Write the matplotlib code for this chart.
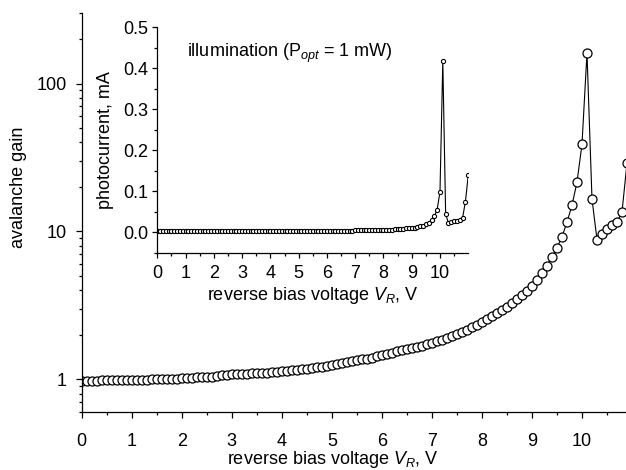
import numpy as np
import matplotlib
matplotlib.use("Agg")
import matplotlib.pyplot as plt
from matplotlib.ticker import LogLocator, MultipleLocator, NullFormatter, FixedLocator

plt.rcParams['font.family'] = ['Liberation Sans', 'DejaVu Sans']
plt.rcParams['mathtext.fontset'] = 'custom'
plt.rcParams['mathtext.rm'] = 'Liberation Sans'
plt.rcParams['mathtext.it'] = 'Liberation Sans:italic'

# reverse bias voltage, V (0.1 V steps)
voltage = [round(0.1 * i, 1) for i in range(111)]

# avalanche gain
gain = [0.97, 0.97, 0.97, 0.97, 0.98, 0.98, 0.98, 0.98, 0.98, 0.99, 0.99,
        0.99, 0.99, 0.99, 1.00, 1.00, 1.00, 1.00, 1.01, 1.01, 1.02,
        1.02, 1.02, 1.03, 1.03, 1.04, 1.04, 1.05, 1.06, 1.07, 1.08,
        1.08, 1.09, 1.09, 1.10, 1.10, 1.11, 1.11, 1.12, 1.12, 1.13,
        1.14, 1.15, 1.16, 1.17, 1.18, 1.19, 1.20, 1.21, 1.23, 1.24,
        1.26, 1.28, 1.30, 1.32, 1.34, 1.36, 1.38, 1.40, 1.43, 1.45,
        1.48, 1.51, 1.54, 1.57, 1.60, 1.63, 1.66, 1.69, 1.72, 1.75,
        1.80, 1.85, 1.90, 1.96, 2.02, 2.09, 2.16, 2.24, 2.33, 2.43,
        2.54, 2.66, 2.79, 2.94, 3.10, 3.28, 3.48, 3.71, 3.98, 4.30,
        4.72, 5.24, 5.87, 6.68, 7.74, 9.2, 11.5, 15.0, 21.5, 38.7,
        161, 16.6, 8.8, 9.6, 10.4, 11.0, 11.6, 13.5, 29, 50]

# photocurrent in mA
photocurrent = [0.003] * 56 + \
    [0.004, 0.004, 0.004, 0.004, 0.004,
     0.004, 0.004, 0.004, 0.004, 0.004, 0.004, 0.004, 0.004, 0.004, 0.005,
     0.005, 0.005, 0.005, 0.005, 0.005, 0.005, 0.006, 0.006, 0.006, 0.006,
     0.007, 0.007, 0.007, 0.008, 0.008, 0.009, 0.009, 0.010, 0.010, 0.011,
     0.012, 0.014, 0.015, 0.017, 0.020, 0.024, 0.030, 0.039, 0.056, 0.099,
     0.418, 0.045, 0.023, 0.025, 0.027, 0.029, 0.030, 0.036, 0.075, 0.14]

fs = 13

fig = plt.figure(figsize=(6.26, 4.70), dpi=100)

# main plot
ax = fig.add_axes([0.1305, 0.1234, 0.8695, 0.849])
ax.plot(voltage, gain, '-', color='black', lw=0.8, marker='o', ms=6.5,
        mfc='white', mec='black', mew=0.9)
ax.set_yscale('log')
ax.set_xlim(0, 10.88)
ax.set_ylim(0.6, 300)
ax.spines['top'].set_visible(False)
ax.spines['right'].set_visible(False)
for s in ['left', 'bottom']:
    ax.spines[s].set_linewidth(0.9)
ax.xaxis.set_major_locator(MultipleLocator(1))
ax.xaxis.set_minor_locator(MultipleLocator(0.5))
ax.yaxis.set_major_locator(FixedLocator([1, 10, 100]))
ax.yaxis.set_major_formatter(plt.FuncFormatter(lambda v, p: '%d' % v))
ax.yaxis.set_minor_locator(LogLocator(base=10, subs=np.arange(2, 10)))
ax.yaxis.set_minor_formatter(NullFormatter())
ax.tick_params(which='major', length=4, width=0.9, labelsize=fs)
ax.tick_params(which='minor', length=2.5, width=0.9)
ax.tick_params(axis='x', pad=11)
ax.tick_params(axis='y', pad=7)
ax.set_ylabel('avalanche gain', fontsize=fs)
ax.yaxis.set_label_coords(-0.10, 0.564)
ax.set_xlabel(r'reverse bias voltage $V_R$, V', fontsize=fs)
ax.xaxis.set_label_coords(0.4617, -0.118)
ax.xaxis.label.set_va('center')

# inset
ins = fig.add_axes([0.2513, 0.4617, 0.4958, 0.480])
ins.patch.set_alpha(0)
ins.plot(voltage, photocurrent, '-', color='black', lw=0.8, marker='o', ms=3,
         mfc='white', mec='black', mew=0.8)
ins.set_xlim(0, 10.98)
ins.set_ylim(-0.05, 0.5)
ins.spines['top'].set_visible(False)
ins.spines['right'].set_visible(False)
for s in ['left', 'bottom']:
    ins.spines[s].set_linewidth(0.9)
ins.xaxis.set_major_locator(MultipleLocator(1))
ins.xaxis.set_minor_locator(MultipleLocator(0.5))
ins.set_xticks(range(11))
ins.yaxis.set_major_locator(FixedLocator([0.0, 0.1, 0.2, 0.3, 0.4, 0.5]))
ins.yaxis.set_major_formatter(plt.FuncFormatter(lambda v, p: '%.1f' % v))
ins.yaxis.set_minor_locator(MultipleLocator(0.05))
ins.tick_params(which='major', length=3.5, width=0.9, labelsize=fs)
ins.tick_params(which='minor', length=2, width=0.9)
ins.tick_params(axis='x', pad=5)
ins.tick_params(axis='y', pad=3)
ins.set_ylabel('photocurrent, mA', fontsize=fs)
ins.yaxis.set_label_coords(-0.138, 0.5)
ins.set_xlabel(r'reverse bias voltage $V_R$, V', fontsize=fs, labelpad=2)
ins.text(1.04, 0.437, r'illumination (P$_{opt}$ = 1 mW)', fontsize=fs,
         va='center', ha='left')

fig.savefig('out.png', dpi=100)
